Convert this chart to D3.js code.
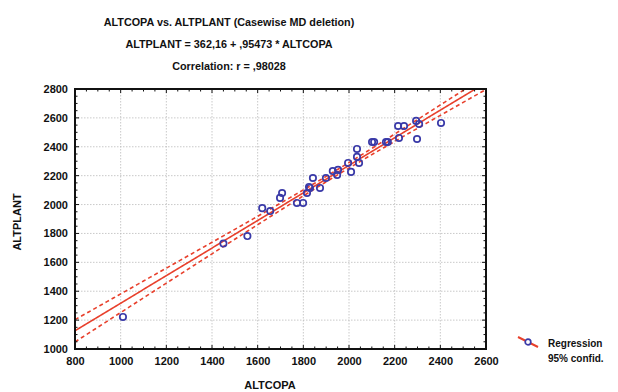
<!DOCTYPE html>
<html>
<head>
<meta charset="utf-8">
<script src="https://cdn.jsdelivr.net/npm/d3@7"></script>
<style>
    body { margin: 0; background: #fff; }
    text { font-family: 'Liberation Sans', Arial, sans-serif; font-weight: bold; fill: #111; }
</style>
</head>
<body>
<div id="chart"></div>
<script>
// Title lines
const titleLines = [
    'ALTCOPA vs. ALTPLANT (Casewise MD deletion)',
    'ALTPLANT = 362,16 + ,95473 * ALTCOPA',
    'Correlation: r = ,98028'
];

// Regression coefficients (from the title)
const intercept = 362.16;
const slope = 0.95473;

const altcopa = [1010, 1450, 1555, 1620, 1655, 1698, 1707, 1772, 1799, 1816, 1825, 1829, 1842, 1873, 1899,
    1929, 1948, 1952, 1996, 2009, 2035, 2035, 2044, 2101, 2110, 2162, 2170, 2219, 2215, 2241, 2294, 2307, 2298, 2403];
const altplant = [1222, 1730, 1782, 1975, 1955, 2046, 2080, 2011, 2011, 2080, 2122, 2115, 2184, 2115, 2184,
    2232, 2205, 2240, 2288, 2226, 2385, 2330, 2288, 2433, 2433, 2433, 2433, 2461, 2544, 2544, 2579, 2558, 2454, 2565];

// Axis ticks
const xTicks = [800, 1000, 1200, 1400, 1600, 1800, 2000, 2200, 2400, 2600];
const yTicks = [1000, 1200, 1400, 1600, 1800, 2000, 2200, 2400, 2600, 2800];

const legendLabels = ['Regression', '95% confid.'];

const W = 618, H = 392;
const margin = { top: 89, right: 132, bottom: 43, left: 75 };
const width = W - margin.left - margin.right;
const height = H - margin.top - margin.bottom;

const svg = d3.select('#chart').append('svg')
    .attr('width', W)
    .attr('height', H);

const xScale = d3.scaleLinear().domain([800, 2600]).range([0, width]);
const yScale = d3.scaleLinear().domain([1000, 2800]).range([height, 0]);

const g = svg.append('g').attr('transform', `translate(${margin.left},${margin.top})`);

// Titles
titleLines.forEach((t, i) => {
    svg.append('text')
        .attr('x', 229)
        .attr('y', 26 + i * 22)
        .attr('text-anchor', 'middle')
        .style('font-size', '10.8px')
        .text(t);
});

// Grid lines
g.append('g').selectAll('line').data(xTicks.slice(1, -1)).join('line')
    .attr('x1', d => xScale(d)).attr('x2', d => xScale(d))
    .attr('y1', 0).attr('y2', height)
    .attr('stroke', '#bbb').attr('stroke-width', 0.8).attr('stroke-dasharray', '1.5,1.5');
g.append('g').selectAll('line').data(yTicks.slice(1, -1)).join('line')
    .attr('y1', d => yScale(d)).attr('y2', d => yScale(d))
    .attr('x1', 0).attr('x2', width)
    .attr('stroke', '#bbb').attr('stroke-width', 0.8).attr('stroke-dasharray', '1.5,1.5');

// Confidence band from the residuals around the line
const n = altcopa.length;
const xMean = d3.mean(altcopa);
const sxx = d3.sum(altcopa, x => (x - xMean) ** 2);
const sse = d3.sum(altcopa, (x, i) => (altplant[i] - (intercept + slope * x)) ** 2);
const se = Math.sqrt(sse / (n - 2));
const tCrit = 2.04;
const xs = d3.range(800, 2601, 10);
const half = x => tCrit * se * Math.sqrt(1 / n + (x - xMean) ** 2 / sxx);

svg.append('clipPath').attr('id', 'plot-clip')
    .append('rect').attr('width', width).attr('height', height);

const plot = g.append('g').attr('clip-path', 'url(#plot-clip)');
const line = d3.line().x(d => xScale(d[0])).y(d => yScale(d[1]));

plot.append('path')
    .datum(xs.map(x => [x, intercept + slope * x]))
    .attr('d', line)
    .attr('fill', 'none').attr('stroke', '#e8402c').attr('stroke-width', 1.6);
[-1, 1].forEach(s => {
    plot.append('path')
        .datum(xs.map(x => [x, intercept + slope * x + s * half(x)]))
        .attr('d', line)
        .attr('fill', 'none').attr('stroke', '#e8402c').attr('stroke-width', 1.6)
        .attr('stroke-dasharray', '4,3');
});

// Points
g.append('g').selectAll('circle').data(altcopa).join('circle')
    .attr('cx', d => xScale(d))
    .attr('cy', (d, i) => yScale(altplant[i]))
    .attr('r', 3.2)
    .attr('fill', 'none')
    .attr('stroke', '#3a3aa8')
    .attr('stroke-width', 1.7);

// Axes: labels outside, minor ticks inward on all four sides
const minorX = d3.range(800, 2601, 50);
const minorY = d3.range(1000, 2801, 50);
g.append('g').attr('transform', `translate(0,${height})`)
    .call(d3.axisBottom(xScale).tickValues(xTicks).tickFormat(d3.format('d')).tickSize(0).tickPadding(8))
    .call(a => a.select('.domain').remove())
    .selectAll('text').style('font-size', '11px').style('font-weight', 'bold');
g.append('g')
    .call(d3.axisLeft(yScale).tickValues(yTicks).tickFormat(d3.format('d')).tickSize(0).tickPadding(7))
    .call(a => a.select('.domain').remove())
    .selectAll('text').style('font-size', '11px').style('font-weight', 'bold');

const tickG = g.append('g').attr('stroke', '#111').attr('stroke-width', 1);
minorX.forEach(v => {
    const len = v % 200 === 0 ? 4 : 2.5;
    tickG.append('line').attr('x1', xScale(v)).attr('x2', xScale(v)).attr('y1', height).attr('y2', height - len);
    tickG.append('line').attr('x1', xScale(v)).attr('x2', xScale(v)).attr('y1', 0).attr('y2', len);
});
minorY.forEach(v => {
    const len = v % 200 === 0 ? 4 : 2.5;
    tickG.append('line').attr('y1', yScale(v)).attr('y2', yScale(v)).attr('x1', 0).attr('x2', len);
    tickG.append('line').attr('y1', yScale(v)).attr('y2', yScale(v)).attr('x1', width).attr('x2', width - len);
});

// Frame
g.append('rect')
    .attr('width', width).attr('height', height)
    .attr('fill', 'none').attr('stroke', '#111').attr('stroke-width', 2);

// Axis titles
svg.append('text')
    .attr('x', 270).attr('y', 389)
    .attr('text-anchor', 'middle')
    .style('font-size', '11px')
    .text('ALTCOPA');
svg.append('text')
    .attr('transform', 'rotate(-90)')
    .attr('x', -222).attr('y', 21)
    .attr('text-anchor', 'middle')
    .style('font-size', '11px')
    .text('ALTPLANT');

// Legend
const lg = svg.append('g').attr('transform', 'translate(518,337)');
lg.append('line').attr('x1', 0).attr('y1', 0).attr('x2', 20).attr('y2', 10)
    .attr('stroke', '#e8402c').attr('stroke-width', 2);
lg.append('circle').attr('cx', 10).attr('cy', 5).attr('r', 2.8)
    .attr('fill', '#fff').attr('stroke', '#3a3aa8').attr('stroke-width', 1.7);
legendLabels.forEach((t, i) => {
    lg.append('text')
        .attr('x', 30).attr('y', 10 + i * 15)
        .style('font-size', '10px')
        .text(t);
});
</script>
</body>
</html>
